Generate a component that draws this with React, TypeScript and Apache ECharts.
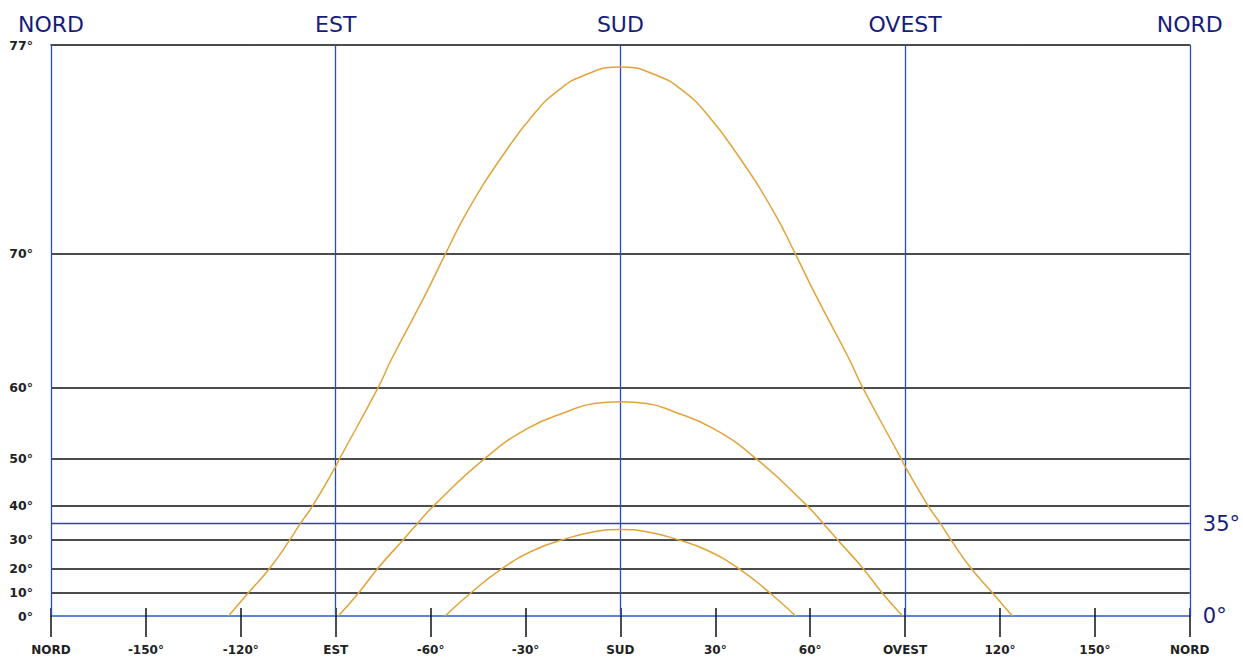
import React, { useEffect, useRef } from "react";
import * as echarts from "echarts";

// Azimuth ticks (degrees, SUD = 0) and their labels
const X_TICKS = [-180, -150, -120, -90, -60, -30, 0, 30, 60, 90, 120, 150, 180];
const X_LABELS = ["NORD", "-150°", "-120°", "EST", "-60°", "-30°", "SUD", "30°", "60°", "OVEST", "120°", "150°", "NORD"];
const TOP_TICKS = [-180, -90, 0, 90, 180];
const TOP_LABELS = ["NORD", "EST", "SUD", "OVEST", "NORD"];

// Elevation grid (degrees)
const ELEV_TICKS = [0, 10, 20, 30, 40, 50, 60, 70, 77];
const ELEV_BLACK_LINES = [10, 20, 30, 40, 50, 60, 70];
const ELEV_BLUE_LINE = 35;
const RIGHT_MARKS = [0, 35];
const ELEV_MAX = 77;

// Sun paths: azimuth (deg) and elevation (deg)
const SUMMER_AZ = [-123.9, -117.6, -110.8, -104.5, -101.2, -97.2, -90, -88.8, -76.6, -72.4, -61.9, -55.3, -48.2, -36.7, -27.2, -19.9, -11.4, 0, 11.4, 19.9, 27.2, 36.7, 48.2, 55.3, 61.9, 72.4, 76.6, 88.8, 90, 97.2, 101.2, 104.5, 110.8, 117.6, 123.9];
const SUMMER_EL = [0, 10, 20, 30, 35, 40, 48.6, 50, 60, 62.8, 67.6, 70, 72.0, 74.1, 75.3, 75.9, 76.3, 76.5, 76.3, 75.9, 75.3, 74.1, 72.0, 70, 67.6, 62.8, 60, 50, 48.6, 40, 35, 30, 20, 10, 0];

const EQUINOX_AZ = [-89.2, -82.7, -76.6, -68.7, -64.2, -58.9, -43.0, -29.3, -16.7, -8.3, 0, 8.3, 16.7, 29.3, 43.0, 58.9, 64.2, 68.7, 76.6, 82.7, 89.2];
const EQUINOX_EL = [0, 10, 20, 30, 35, 40, 50, 54.9, 57.2, 58.2, 58.4, 58.2, 57.2, 54.9, 50, 40, 35, 30, 20, 10, 0];

const WINTER_AZ = [-55.4, -47.2, -37.2, -27.2, -18.3, -8.3, 0, 8.3, 18.3, 27.2, 37.2, 47.2, 55.4];
const WINTER_EL = [0, 10, 20, 26.6, 30, 32.6, 33.3, 32.6, 30, 26.6, 20, 10, 0];

// Elevation axis is a tangent (gnomonic) scale
const toAxis = (deg: number) => Math.tan((deg * Math.PI) / 180);
const fromAxis = (v: number) => Math.round((Math.atan(v) * 180) / Math.PI);

const NAVY = "#161c7a";
const BLUE = "#1f4fc6";
const BLUE35 = "#3a3db2";
const SUN = "#e2a33a";
const FONT = "DejaVu Sans";

export default function App() {
  const ref = useRef<HTMLDivElement>(null);

  useEffect(() => {
    document.body.style.margin = "0";
    const chart = echarts.init(ref.current!, null, { renderer: "svg" });

    const pathSeries = (name: string, az: number[], el: number[]) => ({
      name,
      type: "line",
      data: az.map((a, i) => [a, toAxis(el[i])]),
      showSymbol: false,
      smooth: 0.5,
      lineStyle: { color: SUN, width: 1.5 },
      silent: true,
      z: 5,
    });

    const labelFor = (ticks: number[], labels: string[]) => (v: number) => {
      const i = ticks.findIndex((t) => Math.abs(t - v) < 1e-6);
      return i >= 0 ? labels[i] : "";
    };

    chart.setOption({
      animation: false,
      backgroundColor: "#ffffff",
      grid: { left: 51, right: 53, top: 45, bottom: 43 },
      xAxis: [
        {
          type: "value",
          position: "bottom",
          min: -180,
          max: 180,
          interval: 30,
          axisLine: { show: true, lineStyle: { color: "#2a5cc8", width: 1.5 } },
          axisTick: { show: true, inside: false, length: 21, lineStyle: { color: "#111", width: 1.5 } },
          axisLabel: {
            margin: 28,
            fontFamily: FONT,
            fontSize: 12,
            fontWeight: "bold",
            color: "#222",
            formatter: labelFor(X_TICKS, X_LABELS),
          },
          splitLine: { show: false },
        },
        {
          type: "value",
          position: "bottom",
          min: -180,
          max: 180,
          interval: 30,
          axisLine: { show: false },
          axisTick: { show: true, inside: true, length: 8, lineStyle: { color: "#111", width: 1.5 } },
          axisLabel: { show: false },
          splitLine: { show: false },
        },
        {
          type: "value",
          position: "top",
          min: -180,
          max: 180,
          interval: 90,
          axisLine: { show: true, lineStyle: { color: "#111", width: 1.5 } },
          axisTick: { show: false },
          axisLabel: {
            margin: 10,
            fontFamily: FONT,
            fontSize: 22,
            color: NAVY,
            formatter: labelFor(TOP_TICKS, TOP_LABELS),
          },
          splitLine: { show: false },
        },
      ],
      yAxis: [
        {
          type: "value",
          position: "left",
          min: 0,
          max: toAxis(ELEV_MAX),
          axisLine: { show: false },
          axisTick: { show: false },
          splitLine: { show: false },
          axisLabel: {
            customValues: ELEV_TICKS.map(toAxis),
            margin: 18,
            fontFamily: FONT,
            fontSize: 12.5,
            fontWeight: "bold",
            color: "#222",
            formatter: (v: number) => `${fromAxis(v)}°`,
          },
        },
        {
          type: "value",
          position: "right",
          min: 0,
          max: toAxis(ELEV_MAX),
          axisLine: { show: false },
          axisTick: { show: false },
          splitLine: { show: false },
          axisLabel: {
            customValues: RIGHT_MARKS.map(toAxis),
            margin: 13,
            fontFamily: FONT,
            fontSize: 21,
            color: NAVY,
            formatter: (v: number) => `${fromAxis(v)}°`,
          },
        },
      ],
      series: [
        {
          name: "grid",
          type: "line",
          data: [],
          silent: true,
          markLine: {
            silent: true,
            symbol: "none",
            label: { show: false },
            data: [
              ...ELEV_BLACK_LINES.map((e) => ({
                yAxis: toAxis(e),
                lineStyle: { color: "#111", width: 1.5, type: "solid" },
              })),
              {
                yAxis: toAxis(ELEV_BLUE_LINE),
                lineStyle: { color: BLUE35, width: 1.3, type: "solid" },
              },
              ...TOP_TICKS.map((a) => ({
                xAxis: a,
                lineStyle: { color: BLUE, width: 1.3, type: "solid" },
              })),
            ],
          },
          z: 2,
        },
        pathSeries("Estate", SUMMER_AZ, SUMMER_EL),
        pathSeries("Equinozio", EQUINOX_AZ, EQUINOX_EL),
        pathSeries("Inverno", WINTER_AZ, WINTER_EL),
      ],
    });

    return () => chart.dispose();
  }, []);

  return (
    <div
      ref={ref}
      style={{ position: "fixed", left: 0, top: 0, width: 1243, height: 659, background: "#fff" }}
    />
  );
}
